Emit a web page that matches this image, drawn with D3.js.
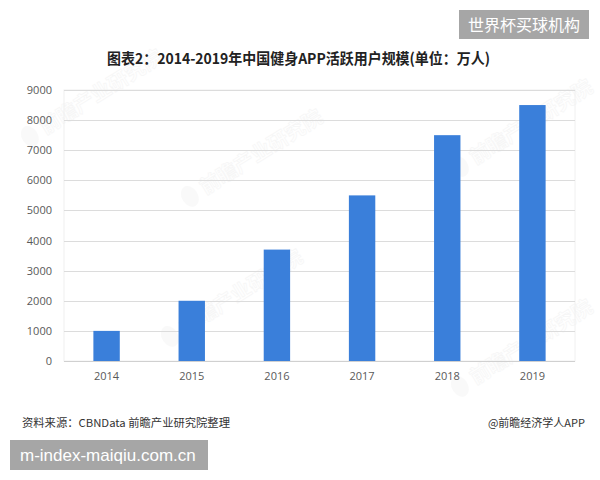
<!DOCTYPE html>
<html><head><meta charset="utf-8">
<script src="https://cdn.jsdelivr.net/npm/d3@7"></script>
<style>
html,body{margin:0;padding:0;background:#fff;}
svg{display:block;}
</style></head>
<body>
<svg id="chart" width="600" height="480"></svg>
<script>
const years = ["2014","2015","2016","2017","2018","2019"];
const users = [1000, 2000, 3700, 5500, 7500, 8500];
const yTicks = [0,1000,2000,3000,4000,5000,6000,7000,8000,9000];
const titleText = "图表2：2014-2019年中国健身APP活跃用户规模(单位：万人)";
const sourceText = "资料来源：CBNData 前瞻产业研究院整理";
const creditText = "@前瞻经济学人APP";
const badgeTop = "世界杯买球机构";
const badgeBottom = "m-index-maiqiu.com.cn";

const svg = d3.select("#chart");
const cjk = "'Noto Sans CJK SC','Noto Sans',sans-serif";
const plot = {left: 64, right: 575, top: 90, bottom: 361};

const x = d3.scaleBand().domain(years).range([plot.left, plot.right]).paddingInner(0.69).paddingOuter(0.345);
const y = d3.scaleLinear().domain([0, 9000]).range([plot.bottom, plot.top]);

// watermarks (very faint)
const wm = [[200,190],[470,160],[180,330],[470,380],[40,130]];
wm.forEach(([wx,wy])=>{
  const g = svg.append("g").attr("transform",`translate(${wx},${wy}) rotate(-32)`).attr("opacity",0.35);
  g.append("ellipse").attr("cx",-12).attr("cy",0).attr("rx",8).attr("ry",11).attr("fill","#eeeeee");
  g.append("text").attr("x",2).attr("y",7).attr("font-family",cjk).attr("font-size",20).attr("font-weight","bold")
    .attr("fill","none").attr("stroke","#e8e8e8").attr("stroke-width",0.8).text("前瞻产业研究院");
});

// plot frame
svg.append("rect").attr("x",plot.left).attr("y",plot.top).attr("width",plot.right-plot.left).attr("height",plot.bottom-plot.top)
  .attr("fill","none").attr("stroke","#f0f0f0").attr("stroke-width",1);

// gridlines
svg.append("g").selectAll("line").data(yTicks.filter(d=>d>0)).join("line")
  .attr("x1",plot.left).attr("x2",plot.right)
  .attr("y1",d=>Math.round(y(d))+0.5).attr("y2",d=>Math.round(y(d))+0.5)
  .attr("stroke","#dcdcdc").attr("stroke-width",1);

// y axis
const yAxis = svg.append("g").attr("transform",`translate(${plot.left-12},0)`)
  .call(d3.axisLeft(y).tickValues(yTicks).tickSize(0).tickPadding(0).tickFormat(d3.format("d")));
yAxis.select(".domain").remove();
yAxis.selectAll("text").attr("font-family","'Open Sans','Noto Sans',sans-serif").attr("font-size",11).attr("fill","#595959");

// bars
svg.append("g").selectAll("rect").data(users).join("rect")
  .attr("x",(d,i)=>x(years[i])).attr("width",x.bandwidth())
  .attr("y",d=>y(d)).attr("height",d=>y(0)-y(d))
  .attr("fill","#3a7fda");

// baseline
svg.append("line").attr("x1",plot.left).attr("x2",plot.right).attr("y1",plot.bottom+0.5).attr("y2",plot.bottom+0.5)
  .attr("stroke","#d0d0d0");

// x axis
const xAxis = svg.append("g").attr("transform",`translate(0,${plot.bottom})`)
  .call(d3.axisBottom(x).tickSize(0).tickPadding(11));
xAxis.select(".domain").remove();
xAxis.selectAll("text").attr("font-family","'Open Sans','Noto Sans',sans-serif").attr("font-size",11).attr("fill","#595959");

// title
svg.append("text").attr("x",107).attr("y",64).attr("font-family",cjk).attr("font-size",15).attr("font-weight","bold")
  .attr("fill","#222").attr("textLength",383).attr("lengthAdjust","spacingAndGlyphs").text(titleText);

// top badge
svg.append("rect").attr("x",459).attr("y",10).attr("width",130).attr("height",29).attr("fill","#a6a6a6");
svg.append("text").attr("x",524).attr("y",31).attr("text-anchor","middle").attr("font-family",cjk).attr("font-size",16)
  .attr("fill","#fff").text(badgeTop);

// footer
svg.append("text").attr("x",22).attr("y",427).attr("font-family",cjk).attr("font-size",11).attr("fill","#333")
  .attr("textLength",208).attr("lengthAdjust","spacingAndGlyphs").text(sourceText);
svg.append("text").attr("x",585).attr("y",427).attr("text-anchor","end").attr("font-family",cjk).attr("font-size",11).attr("fill","#333")
  .text(creditText);

// bottom badge
svg.append("rect").attr("x",10).attr("y",440).attr("width",198).attr("height",30).attr("fill","#a6a6a6");
svg.append("text").attr("x",20).attr("y",461).attr("font-family","'Liberation Sans','DejaVu Sans',sans-serif").attr("font-size",17)
  .attr("fill","#fff").text(badgeBottom);
</script>
</body></html>
